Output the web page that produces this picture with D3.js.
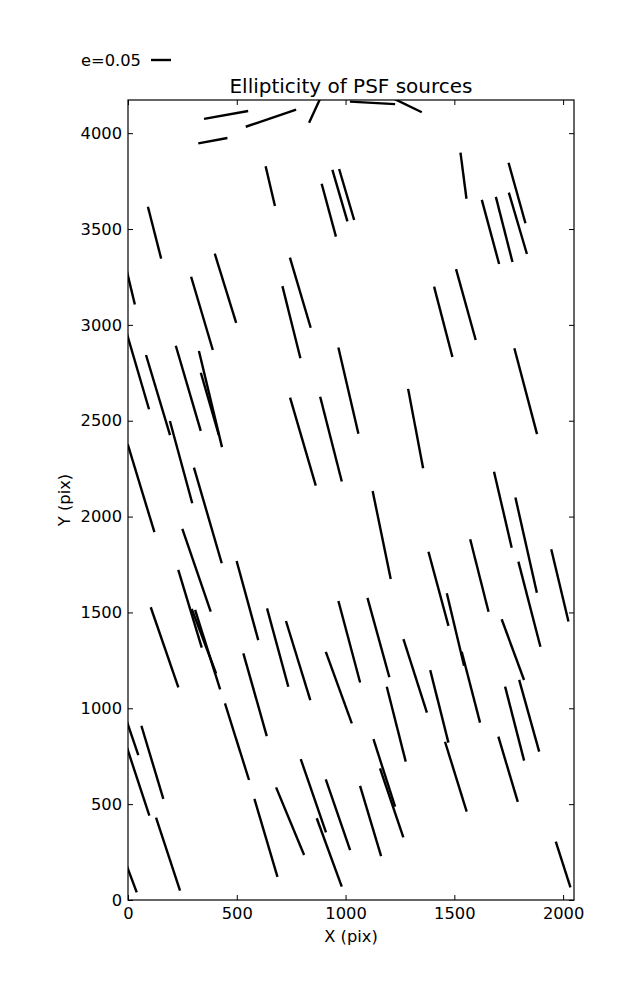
<!DOCTYPE html>
<html>
<head>
<meta charset="utf-8">
<script src="https://cdn.jsdelivr.net/npm/d3@7"></script>
<style>
  body { margin: 0; background: #fff; }
  svg text { font-family: "DejaVu Sans", sans-serif; fill: #000; }
</style>
</head>
<body>
<svg id="chart" width="637" height="1000"></svg>
<script>
// Star positions (pix), ellipticity e and orientation angle (deg, counter-clockwise from +X)
const starX = [451, 390, 657, 865, 1124, 1276, 654, 122, 923, 974, 1005, 340, 448, 751, 792, 0, 1542, 1788, 1666, 1729, 1792, 1449, 1553, 1828, 1322, 1013, 1166, 1723, 1830, 45, 138, 277, 379, 376, 804, 933, 244, 60, 367, 315, 549, 285, 168, 349, 366, 688, 782, 584, 1017, 969, 501, 1427, 1615, 1845, 1985, 1505, 1576, 1151, 1320, 1431, 1233, 1769, 1777, 1844, 1747, 1507, 1178, 1212, 1115, 965, 2000, 852, 745, 634, 925, 112, 0, 37, 184, 0];
const starY = [4095, 3961, 4078, 4135, 4158, 4150, 3724, 3481, 3598, 3674, 3680, 3060, 3191, 3014, 3168, 3255, 3778, 3688, 3485, 3498, 3530, 3016, 3106, 2654, 2459, 2657, 1904, 2036, 1851, 2760, 2634, 2669, 2613, 2588, 2391, 2404, 2284, 2148, 2006, 1720, 1562, 1519, 1318, 1350, 1306, 1317, 1249, 1071, 1347, 1108, 826, 1623, 1693, 1543, 1641, 1411, 1110, 1369, 1169, 1010, 917, 1306, 920, 961, 682, 643, 663, 507, 412, 445, 185, 544, 411, 324, 248, 718, 914, 651, 239, 161];
const starE = [0.112, 0.074, 0.133, 0.085, 0.113, 0.090, 0.102, 0.134, 0.137, 0.134, 0.133, 0.191, 0.181, 0.186, 0.183, 0.147, 0.116, 0.157, 0.166, 0.168, 0.160, 0.182, 0.184, 0.222, 0.202, 0.221, 0.225, 0.195, 0.244, 0.200, 0.209, 0.222, 0.247, 0.162, 0.229, 0.219, 0.213, 0.230, 0.249, 0.219, 0.205, 0.203, 0.212, 0.172, 0.208, 0.203, 0.207, 0.215, 0.211, 0.190, 0.201, 0.192, 0.187, 0.220, 0.186, 0.186, 0.183, 0.206, 0.193, 0.187, 0.193, 0.162, 0.191, 0.186, 0.170, 0.183, 0.177, 0.182, 0.183, 0.187, 0.120, 0.194, 0.183, 0.203, 0.182, 0.191, 0.160, 0.213, 0.192, 0.124];
const starAngle = [10.2, 10.4, 18.7, 65.3, -3.3, -25.9, 103.2, 104.3, 105.1, 106.3, 106.4, 106.5, 107.2, 104.0, 106.5, 103.5, 97.4, 105.6, 105.1, 104.3, 106.4, 104.6, 105.5, 104.8, 100.7, 103.1, 101.6, 103.1, 102.7, 106.3, 106.7, 106.3, 103.5, 106.1, 106.3, 104.3, 105.2, 106.9, 106.2, 108.9, 105.3, 106.8, 109.0, 110.7, 107.5, 105.2, 107.1, 105.8, 104.9, 110.0, 107.4, 105.1, 104.2, 104.5, 103.4, 103.4, 104.5, 105.4, 107.7, 104.1, 104.2, 110.2, 104.4, 105.6, 106.6, 107.2, 107.8, 108.7, 106.7, 109.0, 107.8, 109.0, 112.5, 106.5, 110.1, 106.7, 108.8, 108.2, 108.2, 110.6];

const xTicks = [0, 500, 1000, 1500, 2000];
const yTicks = [0, 500, 1000, 1500, 2000, 2500, 3000, 3500, 4000];
const xDomain = [0, 2050];
const yDomain = [0, 4173];
const keyE = 0.05;
const titleText = "Ellipticity of PSF sources";
const xLabel = "X (pix)";
const yLabel = "Y (pix)";

const svg = d3.select("#chart");
const L = 128, T = 100, W = 446, H = 800;

const x = d3.scaleLinear().domain(xDomain).range([L, L + W]);
const y = d3.scaleLinear().domain(yDomain).range([T + H, T]);
const len = d3.scaleLinear().domain([0, keyE]).range([0, 20]);

svg.append("defs").append("clipPath").attr("id", "plotclip")
  .append("rect").attr("x", L).attr("y", T).attr("width", W).attr("height", H);

const stars = starX.map((v, i) => ({x: v, y: starY[i], e: starE[i], a: starAngle[i]}));

svg.append("g").attr("clip-path", "url(#plotclip)")
  .selectAll("line").data(stars).join("line")
  .attr("x1", d => x(d.x) - len(d.e) / 2 * Math.cos(d.a * Math.PI / 180))
  .attr("y1", d => y(d.y) + len(d.e) / 2 * Math.sin(d.a * Math.PI / 180))
  .attr("x2", d => x(d.x) + len(d.e) / 2 * Math.cos(d.a * Math.PI / 180))
  .attr("y2", d => y(d.y) - len(d.e) / 2 * Math.sin(d.a * Math.PI / 180))
  .attr("stroke", "#000").attr("stroke-width", 2.4).attr("stroke-linecap", "butt");

function styleAxis(g, showLabels) {
  g.select(".domain").remove();
  g.selectAll(".tick line").attr("stroke", "#000").attr("stroke-width", 1);
  g.selectAll(".tick text").attr("font-size", 16.3).attr("font-family", "DejaVu Sans");
  if (!showLabels) g.selectAll(".tick text").remove();
}

svg.append("g").attr("transform", `translate(0,${T + H})`)
  .call(d3.axisBottom(x).tickValues(xTicks).tickSize(-5).tickPadding(7.5).tickFormat(d3.format("d")))
  .call(g => styleAxis(g, true));
svg.append("g").attr("transform", `translate(0,${T})`)
  .call(d3.axisTop(x).tickValues(xTicks).tickSize(-5))
  .call(g => styleAxis(g, false));
svg.append("g").attr("transform", `translate(${L},0)`)
  .call(d3.axisLeft(y).tickValues(yTicks).tickSize(-5).tickPadding(6).tickFormat(d3.format("d")))
  .call(g => styleAxis(g, true));
svg.append("g").attr("transform", `translate(${L + W},0)`)
  .call(d3.axisRight(y).tickValues(yTicks).tickSize(-5))
  .call(g => styleAxis(g, false));

svg.append("rect").attr("x", L).attr("y", T).attr("width", W).attr("height", H)
  .attr("fill", "none").attr("stroke", "#000").attr("stroke-width", 1.2);

svg.append("text").attr("x", L + W / 2).attr("y", 93).attr("text-anchor", "middle")
  .attr("font-size", 20).text(titleText);
svg.append("text").attr("x", L + W / 2).attr("y", 942).attr("text-anchor", "middle")
  .attr("font-size", 16.3).text(xLabel);
svg.append("text").attr("transform", "translate(70,500) rotate(-90)").attr("text-anchor", "middle")
  .attr("font-size", 16.3).text(yLabel);

// key
svg.append("text").attr("x", 81).attr("y", 66).attr("font-size", 16.3).text("e=" + keyE.toFixed(2));
svg.append("line").attr("x1", 151).attr("x2", 151 + len(keyE)).attr("y1", 60).attr("y2", 60)
  .attr("stroke", "#000").attr("stroke-width", 2.4);
</script>
</body>
</html>
